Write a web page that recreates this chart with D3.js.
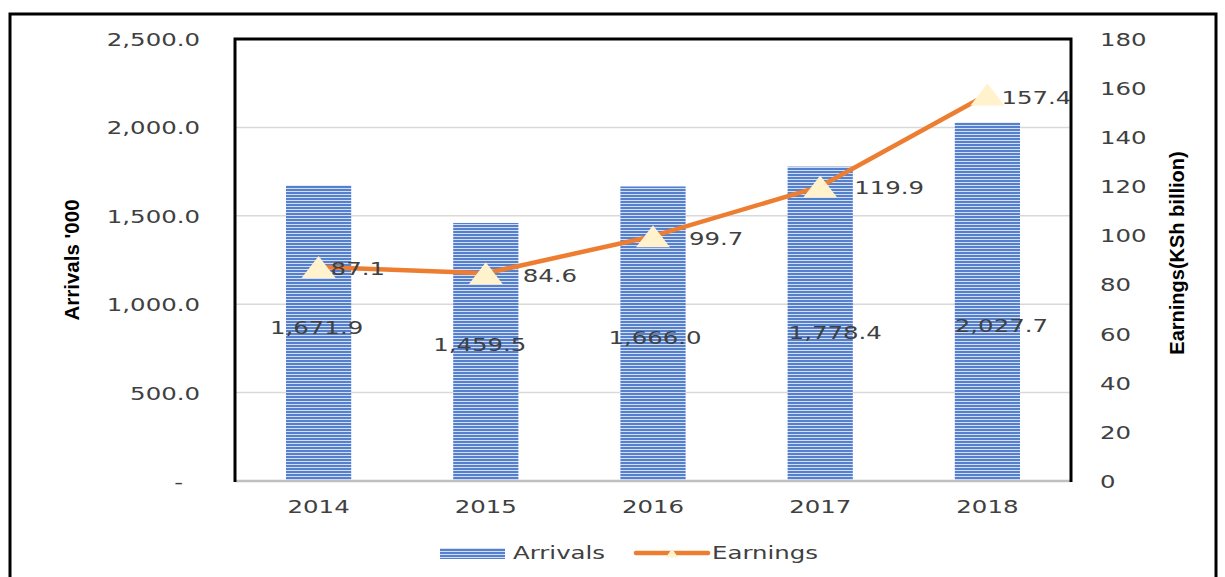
<!DOCTYPE html>
<html>
<head>
<meta charset="utf-8">
<script src="https://cdn.jsdelivr.net/npm/d3@7/dist/d3.min.js"></script>
<style>
  html, body { margin: 0; padding: 0; background: #fff; }
  svg { display: block; }
</style>
</head>
<body>
<svg id="chart" width="1225" height="577"></svg>
<script>
// Tourist arrivals ('000) and tourism earnings (KSh billion), 2014-2018
const years = ["2014", "2015", "2016", "2017", "2018"];
const arrivals = [1671.9, 1459.5, 1666.0, 1778.4, 2027.7];
const earnings = [87.1, 84.6, 99.7, 119.9, 157.4];
const arrivalTicks = [0, 500, 1000, 1500, 2000, 2500];
const earningTicks = [0, 20, 40, 60, 80, 100, 120, 140, 160, 180];

// label placement tweaks (pixels)
const arrivalLabelDx = [-2, -6, 2, 15, 14];
const arrivalLabelY = [328, 345, 338, 333, 326];
const earningLabelDx = [12, 37, 36, 34, 14];
const earningLabelDy = [1, 2, 2, 1, 3];

const W = 1225, H = 577;
const plot = { left: 235, right: 1071, top: 39, bottom: 481 };
const SX = 1.32; // horizontal stretch applied to all horizontal text
const FONT = "'DejaVu Sans', Verdana, sans-serif";
const TEXT = "#404040";

const svg = d3.select("#chart");

// stripes used to fill the bars
const defs = svg.append("defs");
const pat = defs.append("pattern")
  .attr("id", "stripes").attr("patternUnits", "userSpaceOnUse")
  .attr("width", 8).attr("height", 3);
pat.append("rect").attr("width", 8).attr("height", 3).attr("fill", "#d3def4");
pat.append("rect").attr("width", 8).attr("height", 2).attr("fill", "#5580cc");

const x = d3.scaleBand().domain(years).range([plot.left, plot.right]).paddingInner(0.61).paddingOuter(0.305);
const yL = d3.scaleLinear().domain([0, 2500]).range([plot.bottom, plot.top]);
const yR = d3.scaleLinear().domain([0, 180]).range([plot.bottom, plot.top]);

function stretchedText(g, px, py, str, anchor, size) {
  return g.append("text")
    .attr("transform", `translate(${px},${py}) scale(${SX},1)`)
    .attr("text-anchor", anchor)
    .attr("dominant-baseline", "central")
    .attr("font-family", FONT)
    .attr("font-size", size)
    .attr("fill", TEXT)
    .text(str);
}

// outer frame
svg.append("path")
  .attr("d", `M10,${H + 5} L10,14 L1216,14 L1216,${H + 5}`)
  .attr("fill", "none").attr("stroke", "#000").attr("stroke-width", 3);

// gridlines
svg.append("g").selectAll("line")
  .data(arrivalTicks.filter(d => d > 0))
  .join("line")
  .attr("x1", plot.left).attr("x2", plot.right)
  .attr("y1", d => yL(d)).attr("y2", d => yL(d))
  .attr("stroke", "#d9d9d9").attr("stroke-width", 1.5);

// left axis
const gL = svg.append("g").attr("transform", `translate(${plot.left},0)`)
  .call(d3.axisLeft(yL).tickValues(arrivalTicks).tickSize(0).tickFormat(d => d === 0 ? "-" : d3.format(",.1f")(d)));
gL.select(".domain").remove();
gL.selectAll(".tick text")
  .attr("x", null).attr("dy", null)
  .attr("transform", d => `translate(${d === 0 ? -52 : -35},0) scale(${SX},1)`)
  .attr("dominant-baseline", "central")
  .attr("font-family", FONT).attr("font-size", 18.5).attr("fill", TEXT);

// right axis
const gR = svg.append("g").attr("transform", `translate(${plot.right},0)`)
  .call(d3.axisRight(yR).tickValues(earningTicks).tickSize(0).tickFormat(d3.format("d")));
gR.select(".domain").remove();
gR.selectAll(".tick text")
  .attr("x", null).attr("dy", null)
  .attr("transform", `translate(29,0) scale(${SX},1)`)
  .attr("text-anchor", "start")
  .attr("dominant-baseline", "central")
  .attr("font-family", FONT).attr("font-size", 18.5).attr("fill", TEXT);

// bottom axis labels
const gB = svg.append("g").attr("transform", `translate(0,${plot.bottom})`)
  .call(d3.axisBottom(x).tickSize(0));
gB.select(".domain").remove();
gB.selectAll(".tick text")
  .attr("y", null).attr("dy", null)
  .attr("transform", `translate(0,26) scale(${SX},1)`)
  .attr("dominant-baseline", "central")
  .attr("font-family", FONT).attr("font-size", 18.5).attr("fill", TEXT);

// bars
svg.append("g").selectAll("rect")
  .data(arrivals)
  .join("rect")
  .attr("x", (d, i) => x(years[i]))
  .attr("width", x.bandwidth())
  .attr("y", d => yL(d))
  .attr("height", d => yL(0) - yL(d))
  .attr("fill", "url(#stripes)");

// plot frame
svg.append("line").attr("x1", plot.left).attr("x2", plot.right)
  .attr("y1", plot.bottom).attr("y2", plot.bottom)
  .attr("stroke", "#bfbfbf").attr("stroke-width", 2.5);
svg.append("path")
  .attr("d", `M${plot.left},${plot.bottom + 1} L${plot.left},${plot.top} L${plot.right},${plot.top} L${plot.right},${plot.bottom + 1}`)
  .attr("fill", "none").attr("stroke", "#000").attr("stroke-width", 3);

// earnings line
const cx = (d, i) => x(years[i]) + x.bandwidth() / 2;
const line = d3.line().x(cx).y(d => yR(d));
svg.append("path").datum(earnings)
  .attr("d", line)
  .attr("fill", "none").attr("stroke", "#ED7D31").attr("stroke-width", 4.5)
  .attr("stroke-linejoin", "round");

// triangle markers
const tri = (w, h) => `M0,${-h / 2} L${w / 2},${h / 2} L${-w / 2},${h / 2} Z`;
svg.append("g").selectAll("path")
  .data(earnings)
  .join("path")
  .attr("transform", (d, i) => `translate(${cx(d, i)},${yR(d)})`)
  .attr("d", tri(34, 22))
  .attr("fill", "#FFF2CC");

// arrival value labels
const gLab = svg.append("g");
arrivals.forEach((d, i) => {
  stretchedText(gLab, cx(d, i) + arrivalLabelDx[i], arrivalLabelY[i], d3.format(",.1f")(d), "middle", 18.5);
});

// earning value labels
earnings.forEach((d, i) => {
  stretchedText(gLab, cx(d, i) + earningLabelDx[i], yR(d) + earningLabelDy[i], d3.format(".1f")(d), "start", 18.5);
});

// axis titles
svg.append("text")
  .attr("transform", "translate(71,260) rotate(-90)")
  .attr("text-anchor", "middle").attr("dominant-baseline", "central")
  .attr("font-family", "'Liberation Sans Narrow', 'Arial Narrow', sans-serif")
  .attr("font-weight", "bold").attr("font-size", 20.5).attr("fill", "#000")
  .text("Arrivals '000");
svg.append("text")
  .attr("transform", "translate(1177,253) rotate(-90)")
  .attr("text-anchor", "middle").attr("dominant-baseline", "central")
  .attr("font-family", "'Liberation Sans Narrow', 'Arial Narrow', sans-serif")
  .attr("font-weight", "bold").attr("font-size", 20).attr("fill", "#000")
  .text("Earnings(KSh billion)");

// legend
const leg = svg.append("g");
leg.append("rect").attr("x", 440).attr("y", 548).attr("width", 65).attr("height", 11)
  .attr("fill", "url(#stripes)");
stretchedText(leg, 513, 553, "Arrivals", "start", 18.5);
leg.append("line").attr("x1", 636).attr("x2", 708).attr("y1", 553).attr("y2", 553)
  .attr("stroke", "#ED7D31").attr("stroke-width", 4.5).attr("stroke-linecap", "round");
leg.append("path").attr("transform", "translate(672,553)").attr("d", tri(12, 9)).attr("fill", "#FFF2CC");
stretchedText(leg, 712, 553, "Earnings", "start", 18.5);
</script>
</body>
</html>
